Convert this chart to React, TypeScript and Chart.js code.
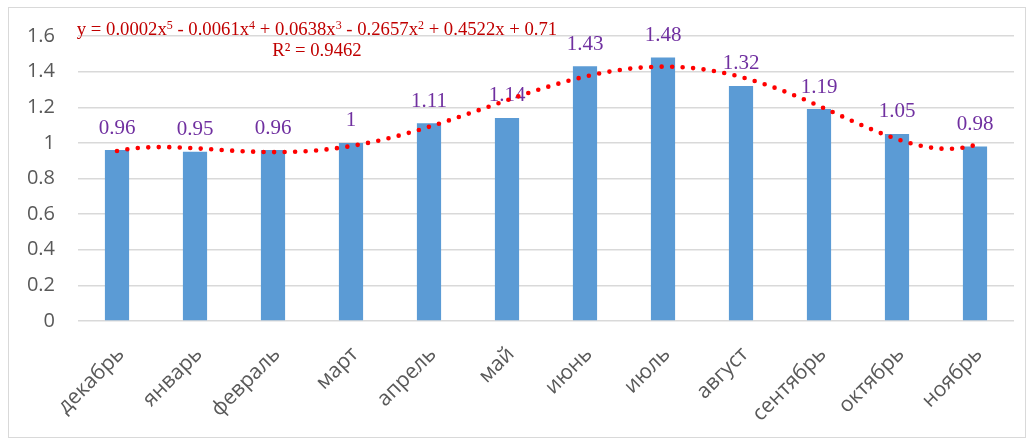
import React, { useEffect, useRef } from "react";
import { Chart, registerables } from "chart.js";

Chart.register(...registerables);

// Monthly values, December through November
const months: string[] = [
  "декабрь", "январь", "февраль", "март", "апрель", "май",
  "июнь", "июль", "август", "сентябрь", "октябрь", "ноябрь",
];
const values: number[] = [0.96, 0.95, 0.96, 1, 1.11, 1.14, 1.43, 1.48, 1.32, 1.19, 1.05, 0.98];

// Y axis range and step
const yMin = 0;
const yMax = 1.6;
const yStep = 0.2;

// Trendline caption (degree-5 polynomial fit)
const trendDegree = 5;
const equationParts: { text: string; sup?: boolean }[] = [
  { text: "y = 0.0002x" }, { text: "5", sup: true },
  { text: " - 0.0061x" }, { text: "4", sup: true },
  { text: " + 0.0638x" }, { text: "3", sup: true },
  { text: " - 0.2657x" }, { text: "2", sup: true },
  { text: " + 0.4522x + 0.71" },
];
const rSquaredText = "R² = 0.9462";

// Least-squares polynomial fit over x = 1..n (on a normalised axis for stability)
function polyFit(xs: number[], ys: number[], deg: number): (x: number) => number {
  const mean = xs.reduce((a, b) => a + b, 0) / xs.length;
  const half = (Math.max(...xs) - Math.min(...xs)) / 2 || 1;
  const ts = xs.map((x) => (x - mean) / half);
  const n = deg + 1;
  const A: number[][] = Array.from({ length: n }, () => new Array(n + 1).fill(0));
  for (let k = 0; k < ts.length; k++) {
    const pw: number[] = [];
    let p = 1;
    for (let i = 0; i < 2 * n; i++) { pw.push(p); p *= ts[k]; }
    for (let i = 0; i < n; i++) {
      for (let j = 0; j < n; j++) A[i][j] += pw[i + j];
      A[i][n] += pw[i] * ys[k];
    }
  }
  for (let col = 0; col < n; col++) {
    let piv = col;
    for (let r = col + 1; r < n; r++) if (Math.abs(A[r][col]) > Math.abs(A[piv][col])) piv = r;
    [A[col], A[piv]] = [A[piv], A[col]];
    for (let r = 0; r < n; r++) {
      if (r === col) continue;
      const f = A[r][col] / A[col][col];
      for (let c = col; c <= n; c++) A[r][c] -= f * A[col][c];
    }
  }
  const coef = A.map((row, i) => row[n] / row[i]);
  return (x: number) => {
    const t = (x - mean) / half;
    let s = 0;
    for (let i = n - 1; i >= 0; i--) s = s * t + coef[i];
    return s;
  };
}

const TICK_FONT = '"Open Sans", "DejaVu Sans", sans-serif';
const SERIF = '"Liberation Serif", "Times New Roman", serif';

const frame = {
  id: "frame",
  beforeDraw(chart: Chart) {
    const { ctx, width, height } = chart;
    ctx.save();
    ctx.fillStyle = "#ffffff";
    ctx.fillRect(0, 0, width, height);
    ctx.strokeStyle = "#d9d9d9";
    ctx.lineWidth = 1;
    ctx.strokeRect(8.5, 7.5, width - 17, height - 9);
    ctx.restore();
  },
};

const valueLabels = {
  id: "valueLabels",
  afterDatasetDraw(chart: Chart, args: { index: number }) {
    if (args.index !== 0) return;
    const meta = chart.getDatasetMeta(0);
    const { ctx } = chart;
    ctx.save();
    ctx.font = `21px ${SERIF}`;
    ctx.fillStyle = "#7030a0";
    ctx.textAlign = "center";
    ctx.textBaseline = "middle";
    meta.data.forEach((bar: any, i: number) => {
      ctx.fillText(String(values[i]), bar.x, bar.y - 22);
    });
    ctx.restore();
  },
};

const equationLabel = {
  id: "equationLabel",
  afterDraw(chart: Chart) {
    const { ctx } = chart;
    const cx = 317;
    const mainFont = `18.7px ${SERIF}`;
    const supFont = `12px ${SERIF}`;
    ctx.save();
    ctx.fillStyle = "#c00000";
    ctx.textBaseline = "alphabetic";
    ctx.textAlign = "left";
    let total = 0;
    for (const p of equationParts) {
      ctx.font = p.sup ? supFont : mainFont;
      total += ctx.measureText(p.text).width;
    }
    let x = cx - total / 2;
    for (const p of equationParts) {
      ctx.font = p.sup ? supFont : mainFont;
      ctx.fillText(p.text, x, p.sup ? 29 : 35);
      x += ctx.measureText(p.text).width;
    }
    ctx.font = mainFont;
    ctx.textAlign = "center";
    ctx.fillText(rSquaredText, cx, 56);
    ctx.restore();
  },
};

export default function App() {
  const canvasRef = useRef<HTMLCanvasElement | null>(null);

  useEffect(() => {
    if (!canvasRef.current) return;
    const xs = values.map((_, i) => i + 1);
    const fit = polyFit(xs, values, trendDegree);
    const trend: { x: number; y: number }[] = [];
    for (let s = 0; s <= (values.length - 1) * 20; s++) {
      const x = 1 + s / 20;
      trend.push({ x: x - 1, y: fit(x) });
    }
    const bars = values.map((v, i) => ({ x: i, y: v }));

    const chart = new Chart(canvasRef.current, {
      type: "bar",
      data: {
        datasets: [
          {
            type: "bar",
            data: bars,
            backgroundColor: "#5b9bd5",
            barPercentage: 0.31,
            categoryPercentage: 1,
            order: 2,
          } as any,
          {
            type: "line",
            data: trend,
            borderColor: "#ff0000",
            borderWidth: 4.6,
            borderDash: [0, 10.5],
            borderCapStyle: "round",
            pointRadius: 0,
            tension: 0,
            fill: false,
            order: 1,
          } as any,
        ],
      },
      options: {
        animation: false,
        responsive: false,
        devicePixelRatio: 1,
        layout: { padding: { left: 0, right: 20, top: 36, bottom: 0 } },
        plugins: {
          legend: { display: false },
          tooltip: { enabled: false },
          title: { display: false },
        },
        scales: {
          x: {
            type: "linear",
            min: -0.5,
            max: months.length - 0.5,
            offset: false,
            grid: { display: false, drawTicks: false },
            border: { display: false },
            afterBuildTicks(scale: any) {
              scale.ticks = months.map((_, i) => ({ value: i }));
            },
            ticks: {
              autoSkip: false,
              minRotation: 45,
              maxRotation: 45,
              padding: 21,
              labelOffset: 4,
              color: "#595959",
              font: { family: TICK_FONT, size: 21 },
              callback: (v: any) => months[Math.round(Number(v))] ?? "",
            },
            afterFit(scale: any) { scale.height = 118; },
          },
          y: {
            min: yMin,
            max: yMax,
            grid: { color: "#d9d9d9", lineWidth: 1.5, drawTicks: false },
            border: { display: false },
            ticks: {
              stepSize: yStep,
              padding: 23,
              color: "#595959",
              font: { family: TICK_FONT, size: 20 },
              callback: (v: any) => String(Math.round(Number(v) * 10) / 10),
            },
            afterFit(scale: any) { scale.width = 78; },
          },
        },
      } as any,
      plugins: [frame, valueLabels, equationLabel],
    });
    return () => chart.destroy();
  }, []);

  return (
    <div style={{ position: "fixed", left: 0, top: 0, width: 1034, height: 439, background: "#fff" }}>
      <canvas ref={canvasRef} width={1034} height={439} style={{ display: "block" }} />
    </div>
  );
}
